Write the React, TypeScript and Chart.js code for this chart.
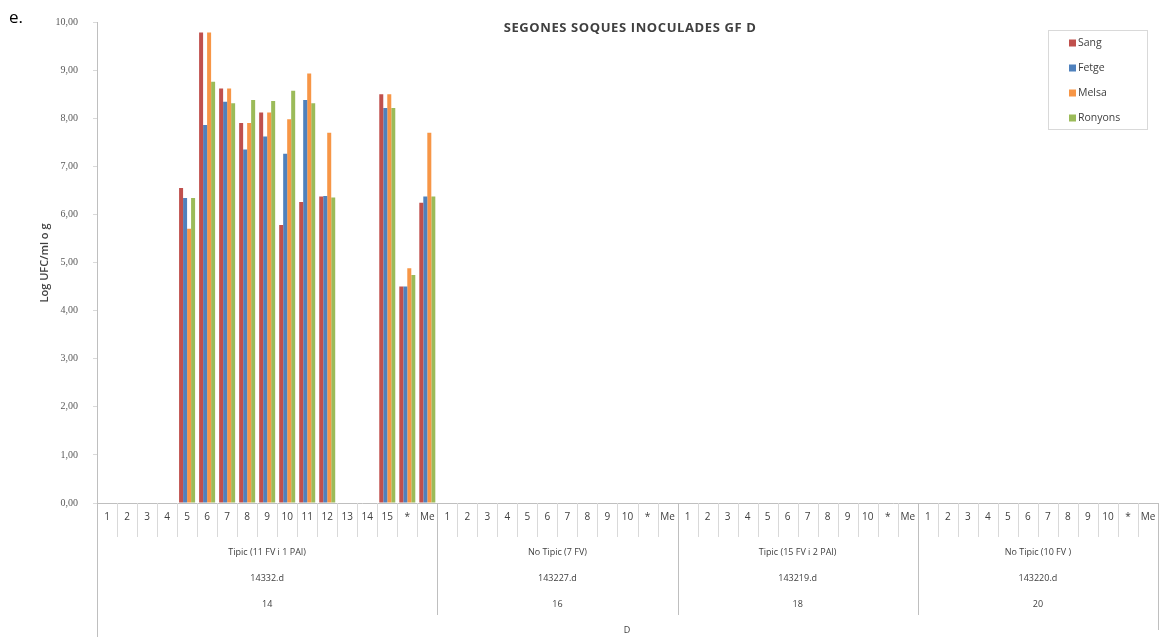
import React, { useEffect, useRef } from 'react';
import { Chart, registerables } from 'chart.js';

Chart.register(...registerables);

// Sample labels inside each strain block
const samplesStrain14 = ['1', '2', '3', '4', '5', '6', '7', '8', '9', '10', '11', '12', '13', '14', '15', '*', 'Me'];
const samplesStrain16 = ['1', '2', '3', '4', '5', '6', '7', '8', '9', '10', '*', 'Me'];
const samplesStrain18 = ['1', '2', '3', '4', '5', '6', '7', '8', '9', '10', '*', 'Me'];
const samplesStrain20 = ['1', '2', '3', '4', '5', '6', '7', '8', '9', '10', '*', 'Me'];

// Block descriptors (three label rows under the sample numbers)
const groupTypes = ['Tipic (11 FV i 1 PAI)', 'No Tipic (7 FV)', 'Tipic (15 FV i 2 PAI)', 'No Tipic (10 FV )'];
const groupCodes = ['14332.d', '143227.d', '143219.d', '143220.d'];
const groupDays = ['14', '16', '18', '20'];
const axisTitleX = 'D';
const axisTitleY = 'Log UFC/ml o g';
const chartTitle = 'SEGONES SOQUES INOCULADES GF D';

// Log counts per organ (strain 14 only has values; the others are zero)
const z12 = [0, 0, 0, 0, 0, 0, 0, 0, 0, 0, 0, 0];
const sang = [0, 0, 0, 0, 6.55, 9.78, 8.62, 7.9, 8.12, 5.78, 6.26, 6.37, 0, 0, 8.5, 4.5, 6.24, ...z12, ...z12, ...z12];
const fetge = [0, 0, 0, 0, 6.34, 7.86, 8.34, 7.35, 7.62, 7.26, 8.38, 6.38, 0, 0, 8.21, 4.5, 6.37, ...z12, ...z12, ...z12];
const melsa = [0, 0, 0, 0, 5.7, 9.78, 8.62, 7.9, 8.12, 7.98, 8.93, 7.7, 0, 0, 8.5, 4.88, 7.7, ...z12, ...z12, ...z12];
const ronyons = [0, 0, 0, 0, 6.34, 8.76, 8.31, 8.38, 8.36, 8.57, 8.31, 6.35, 0, 0, 8.21, 4.74, 6.37, ...z12, ...z12, ...z12];

const seriesNames = ['Sang', 'Fetge', 'Melsa', 'Ronyons'];
const seriesColors = ['#C0504D', '#4F81BD', '#F79646', '#9BBB59'];

const groups = [samplesStrain14, samplesStrain16, samplesStrain18, samplesStrain20];
const categories = groups.flat();

const TEXT = '#404040';
const AXIS = '#bfbfbf';
const LIGHT = '#d9d9d9';

const decorPlugin = {
  id: 'decor',
  afterDraw(chart: any) {
    const { ctx, chartArea } = chart;
    const x = chart.scales.x;
    const step = x.getPixelForValue(1) - x.getPixelForValue(0);
    const yBase = chartArea.bottom;
    ctx.save();

    // sample labels and their separators
    ctx.font = '10px "Open Sans", sans-serif';
    ctx.fillStyle = TEXT;
    ctx.textAlign = 'center';
    ctx.textBaseline = 'middle';
    ctx.strokeStyle = LIGHT;
    ctx.lineWidth = 1;
    categories.forEach((lab, i) => {
      const cx = x.getPixelForValue(i);
      ctx.fillText(lab, cx, yBase + 14);
      const bx = Math.round(cx + step / 2) + 0.5;
      ctx.beginPath();
      ctx.moveTo(bx, yBase);
      ctx.lineTo(bx, yBase + 34);
      ctx.stroke();
    });

    // block labels and long separators
    let start = 0;
    ctx.strokeStyle = AXIS;
    ctx.font = '9px "Open Sans", sans-serif';
    groups.forEach((g, gi) => {
      const end = start + g.length - 1;
      const left = x.getPixelForValue(start) - step / 2;
      const right = x.getPixelForValue(end) + step / 2;
      const mid = (left + right) / 2;
      ctx.fillText(groupTypes[gi], mid, yBase + 49);
      ctx.fillText(groupCodes[gi], mid, yBase + 75);
      ctx.fillText(groupDays[gi], mid, yBase + 101);
      const rx = Math.round(right) + 0.5;
      ctx.beginPath();
      ctx.moveTo(rx, yBase);
      ctx.lineTo(rx, gi === groups.length - 1 ? yBase + 127 : yBase + 112);
      ctx.stroke();
      start = end + 1;
    });
    const lx = Math.round(chartArea.left) + 0.5;
    ctx.beginPath();
    ctx.moveTo(lx, yBase);
    ctx.lineTo(lx, chart.height);
    ctx.stroke();

    ctx.font = '9px "Open Sans", sans-serif';
    ctx.fillText(axisTitleX, 627, 630);

    // value axis title
    ctx.save();
    ctx.translate(45, 263);
    ctx.rotate(-Math.PI / 2);
    ctx.font = '600 11px "Open Sans", sans-serif';
    ctx.fillText(axisTitleY, 0, 0);
    ctx.restore();

    // chart title
    ctx.save();
    ctx.font = 'bold 13px "Open Sans", sans-serif';
    (ctx as any).letterSpacing = '0.6px';
    ctx.fillStyle = TEXT;
    ctx.fillText(chartTitle, 630, 28);
    ctx.restore();

    // legend
    const lgX = 1048, lgY = 30, lgW = 99, lgH = 99;
    ctx.strokeStyle = LIGHT;
    ctx.strokeRect(lgX + 0.5, lgY + 0.5, lgW, lgH);
    ctx.textAlign = 'left';
    ctx.font = '10.5px "Open Sans", sans-serif';
    chart.data.datasets.forEach((ds: any, i: number) => {
      const yy = lgY + 13 + i * 25;
      ctx.fillStyle = ds.backgroundColor;
      ctx.fillRect(lgX + 21, yy - 3.5, 7, 7);
      ctx.fillStyle = TEXT;
      ctx.fillText(ds.label, lgX + 30, yy);
    });
    ctx.restore();
  },
};

export default function App() {
  const canvasRef = useRef<HTMLCanvasElement | null>(null);

  useEffect(() => {
    if (!canvasRef.current) return;
    const seriesData = [sang, fetge, melsa, ronyons];
    const chart = new Chart(canvasRef.current, {
      type: 'bar',
      data: {
        labels: categories,
        datasets: seriesNames.map((name, i) => ({
          label: name,
          data: seriesData[i],
          backgroundColor: seriesColors[i],
          borderWidth: 0,
          barPercentage: 1.0,
          categoryPercentage: 0.8,
        })),
      },
      options: {
        animation: false,
        responsive: true,
        maintainAspectRatio: false,
        layout: { padding: { top: 22, right: 14, left: 0, bottom: 0 } },
        plugins: {
          legend: { display: false },
          title: { display: false },
          tooltip: { enabled: false },
        },
        scales: {
          x: {
            type: 'category',
            offset: true,
            grid: { display: false },
            ticks: { display: false },
            border: { display: true, color: AXIS },
            afterFit(scale: any) {
              scale.height = 134;
            },
          },
          y: {
            min: 0,
            max: 10,
            ticks: {
              stepSize: 1,
              padding: 15,
              color: '#595959',
              font: { family: '"Liberation Serif", serif', size: 10 },
              callback: (v: any) => Number(v).toFixed(2).replace('.', ','),
            },
            grid: { drawOnChartArea: false, drawTicks: true, tickLength: 4, color: LIGHT },
            border: { display: true, color: AXIS },
            afterFit(scale: any) {
              scale.width = 97;
            },
          },
        },
      },
      plugins: [decorPlugin],
    });
    return () => chart.destroy();
  }, []);

  return (
    <div style={{ position: 'absolute', left: 0, top: 0, width: 1172, height: 637, background: '#fff' }}>
      <span
        style={{
          position: 'absolute',
          left: 9,
          top: 6,
          fontFamily: '"Open Sans", sans-serif',
          fontSize: 17,
          color: '#000',
          lineHeight: '22px',
        }}
      >
        e.
      </span>
      <canvas ref={canvasRef} />
    </div>
  );
}
